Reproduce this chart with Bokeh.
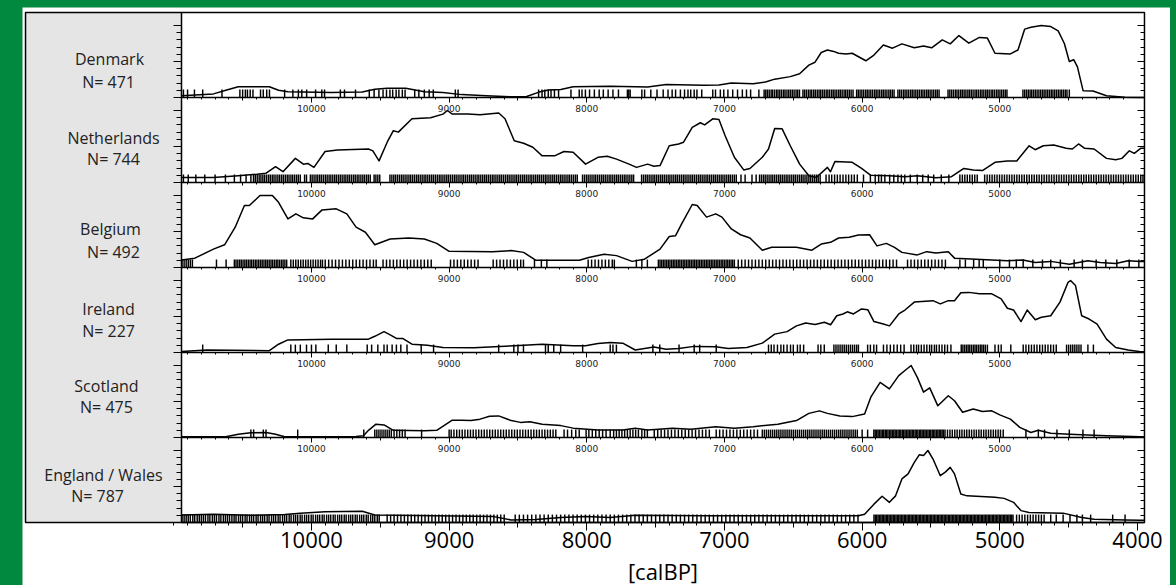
from bokeh.plotting import figure
from bokeh.models import Range1d, LinearAxis, FixedTicker
from bokeh.core.properties import value
from bokeh.embed import file_html
from bokeh.resources import INLINE

# ---------------- data ----------------
countries = ["Denmark", "Netherlands", "Belgium", "Ireland", "Scotland", "England / Wales"]
n_dates = [471, 744, 492, 227, 475, 787]

# summed-probability curves: (calBP, relative density)
dk_curve = [(10944,0.05),(10712,0.10),(10622,0.20),(10532,0.30),(10306,0.30),(10239,0.20),(10171,0.16),(9856,0.14),(9631,0.15),(9540,0.23),(9450,0.26),(9315,0.26),(9180,0.16),(9045,0.14),(8910,0.08),(8730,0.05),(8549,0.02),(8437,0.03),(8347,0.15),(8279,0.21),(8189,0.22),(8099,0.30),(7829,0.31),(7558,0.29),(7423,0.36),(7153,0.34),(7040,0.35),(6950,0.40),(6792,0.38),(6702,0.43),(6635,0.51),(6522,0.58),(6454,0.66),(6387,0.90),(6342,0.98),(6297,1.25),(6252,1.32),(6207,1.28),(6171,1.23),(6117,1.21),(6072,1.23),(5973,1.02),(5914,1.18),(5846,1.46),(5779,1.37),(5711,1.49),(5621,1.38),(5554,1.43),(5495,1.38),(5418,1.60),(5360,1.49),(5297,1.72),(5225,1.51),(5148,1.67),(5090,1.65),(5035,1.23),(4923,1.21),(4868,1.32),(4819,1.90),(4774,1.95),(4698,2.00),(4630,1.97),(4576,1.85),(4531,1.50),(4495,1.00),(4463,1.05),(4436,0.85),(4395,0.19),(4323,0.18),(4225,0.05),(4090,0.01),(3949,0.0)]
nl_curve = [(10944,0.14),(10712,0.14),(10532,0.19),(10396,0.23),(10329,0.26),(10261,0.44),(10207,0.30),(10117,0.67),(10059,0.51),(10027,0.53),(9982,0.42),(9901,0.86),(9811,0.90),(9586,0.93),(9554,0.88),(9509,0.60),(9450,1.12),(9405,1.44),(9369,1.40),(9270,1.77),(9135,1.80),(9045,1.90),(9013,2.00),(8977,1.90),(8865,1.90),(8775,1.88),(8640,1.93),(8594,1.77),(8527,1.16),(8459,1.09),(8392,0.98),(8324,0.74),(8234,0.74),(8166,0.86),(8099,0.84),(8009,0.51),(7919,0.70),(7851,0.73),(7784,0.65),(7693,0.51),(7639,0.42),(7558,0.51),(7513,0.45),(7468,0.47),(7401,1.02),(7333,1.07),(7297,1.12),(7234,1.53),(7175,1.66),(7144,1.60),(7085,1.77),(7040,1.75),(6995,1.30),(6928,0.70),(6860,0.35),(6815,0.39),(6725,0.70),(6680,0.93),(6635,1.50),(6581,1.49),(6522,1.02),(6454,0.51),(6387,0.19),(6333,0.14),(6252,0.42),(6230,0.30),(6198,0.58),(6072,0.56),(6004,0.39),(5937,0.20),(5801,0.19),(5689,0.16),(5599,0.19),(5464,0.13),(5351,0.16),(5261,0.39),(5193,0.35),(5126,0.33),(5035,0.56),(4945,0.60),(4877,0.60),(4787,1.02),(4743,0.91),(4684,1.02),(4608,1.04),(4518,0.95),(4473,0.93),(4428,1.07),(4383,0.95),(4315,0.93),(4225,0.67),(4158,0.63),(4113,0.67),(4059,0.88),(4023,0.81),(3977,0.95),(3949,0.95)]
be_curve = [(10944,0.21),(10847,0.26),(10712,0.51),(10631,0.63),(10554,1.12),(10487,1.72),(10451,1.72),(10374,2.00),(10284,2.00),(10239,1.81),(10171,1.35),(10113,1.49),(10059,1.38),(9991,1.35),(9923,1.60),(9820,1.63),(9743,1.49),(9676,1.12),(9608,0.98),(9540,0.63),(9428,0.79),(9293,0.82),(9180,0.79),(9090,0.67),(9000,0.45),(8685,0.44),(8549,0.47),(8459,0.42),(8369,0.20),(8054,0.20),(7986,0.28),(7874,0.37),(7784,0.33),(7671,0.17),(7581,0.23),(7468,0.51),(7401,0.86),(7356,0.88),(7311,1.21),(7234,1.75),(7198,1.72),(7130,1.40),(7063,1.49),(7018,1.40),(6950,1.07),(6883,0.91),(6815,0.82),(6725,0.48),(6657,0.56),(6477,0.56),(6365,0.48),(6297,0.65),(6229,0.70),(6171,0.82),(6094,0.84),(6027,0.90),(5946,0.91),(5892,0.60),(5824,0.67),(5765,0.56),(5711,0.42),(5599,0.35),(5531,0.44),(5464,0.40),(5374,0.44),(5329,0.26),(5171,0.23),(4945,0.19),(4832,0.21),(4742,0.14),(4630,0.17),(4495,0.09),(4360,0.19),(4270,0.14),(4158,0.11),(4068,0.19),(3977,0.17),(3949,0.17)]
ie_curve = [(10944,0.03),(10757,0.07),(10306,0.05),(10239,0.23),(10171,0.35),(9856,0.37),(9586,0.37),(9540,0.45),(9473,0.58),(9428,0.49),(9383,0.39),(9338,0.39),(9270,0.23),(9158,0.20),(9045,0.14),(8820,0.13),(8527,0.19),(8324,0.23),(8099,0.19),(8009,0.19),(7919,0.25),(7829,0.28),(7739,0.26),(7648,0.07),(7513,0.15),(7423,0.09),(7333,0.11),(7220,0.17),(7063,0.16),(6973,0.11),(6837,0.14),(6725,0.26),(6635,0.51),(6545,0.58),(6477,0.74),(6410,0.82),(6342,0.78),(6274,0.84),(6229,0.77),(6184,1.02),(6139,1.07),(6108,1.13),(6063,1.07),(6004,1.21),(5959,1.19),(5914,0.86),(5846,0.79),(5801,0.74),(5734,1.07),(5689,1.18),(5621,1.40),(5486,1.44),(5432,1.35),(5374,1.44),(5329,1.44),(5283,1.66),(5225,1.67),(5148,1.63),(5058,1.63),(4990,1.49),(4945,1.23),(4900,1.18),(4846,0.86),(4801,1.18),(4742,0.91),(4698,0.98),(4630,1.02),(4563,1.40),(4504,1.95),(4486,2.00),(4450,1.86),(4405,1.02),(4351,0.93),(4293,0.79),(4225,0.37),(4158,0.14),(4068,0.07),(3977,0.02),(3949,0.02)]
sc_curve = [(10944,0.02),(10622,0.02),(10532,0.09),(10441,0.13),(10329,0.14),(10261,0.09),(10194,0.02),(9676,0.03),(9622,0.05),(9586,0.20),(9531,0.37),(9473,0.35),(9405,0.20),(9180,0.19),(9090,0.20),(8977,0.48),(8910,0.48),(8842,0.47),(8775,0.51),(8707,0.59),(8640,0.60),(8549,0.47),(8482,0.42),(8414,0.44),(8324,0.37),(8189,0.33),(8099,0.26),(7919,0.21),(7739,0.21),(7648,0.26),(7558,0.21),(7378,0.26),(7243,0.23),(7063,0.30),(6928,0.26),(6792,0.30),(6612,0.37),(6477,0.47),(6387,0.67),(6310,0.74),(6252,0.67),(6162,0.60),(6072,0.58),(5982,0.65),(5937,1.12),(5869,1.53),(5802,1.35),(5734,1.72),(5689,1.86),(5644,2.00),(5599,1.67),(5554,1.26),(5509,1.38),(5450,0.88),(5374,1.16),(5329,1.02),(5270,0.70),(5193,0.79),(5126,0.72),(5058,0.74),(5000,0.63),(4923,0.51),(4855,0.28),(4774,0.14),(4720,0.20),(4630,0.12),(4495,0.09),(4225,0.05),(3977,0.02),(3949,0.02)]
ew_curve = [(10944,0.21),(10712,0.23),(10441,0.20),(10194,0.22),(10081,0.26),(9901,0.30),(9631,0.31),(9540,0.21),(9090,0.19),(8685,0.17),(8549,0.07),(8369,0.08),(8189,0.14),(8009,0.17),(7829,0.14),(7648,0.20),(7153,0.19),(6027,0.19),(5982,0.23),(5914,0.51),(5855,0.73),(5802,0.56),(5757,0.74),(5711,1.21),(5666,1.35),(5621,1.67),(5585,1.88),(5554,1.86),(5522,2.00),(5486,1.77),(5432,1.30),(5396,1.40),(5360,1.53),(5329,1.35),(5283,0.79),(5238,0.74),(5035,0.70),(4968,0.67),(4900,0.56),(4846,0.33),(4788,0.28),(4540,0.26),(4405,0.14),(4315,0.09),(4090,0.07),(3977,0.06),(3949,0.06)]

# individual radiocarbon dates (calBP), read approximately off the rug
dk_dates = [10930,10900,10850,10790,10650,10520,10500,10480,10465,10445,10425,10370,10350,10325,10305,10195,10135,10095,10070,10035,9970,9925,9905,9790,9760,9680,9580,9545,9510,9480,9455,9430,9410,9385,9365,9340,9320,9250,9220,9180,9145,9115,8955,8935,8350,8325,8305,8280,8260,8235,8205,8115,8055,8035,8010,7980,7945,7910,7880,7845,7810,7770,7705,7695,7685,7600,7580,7535,7490,7445,7410,7380,7355,7320,7290,7265,7245,7220,7200,7165,7085,7065,7030,7005,6975,6940,6905,6870,6840,6810,6750,
 6712,6700,6688,6675,6661,6650,6636,6622,6611,6598,6585,6571,6560,6546,6533,6520,6507,6494,6480,6468,6455,6430,6418,6405,6391,6378,6366,6352,6340,6326,6313,6301,6288,6275,6261,6249,6236,6222,6210,6197,6184,6170,6158,6145,6131,6119,6106,6093,6080,6066,6040,6028,6015,6002,5989,5975,5963,5950,5937,5924,5910,5898,5885,5872,5858,5846,5833,5820,5806,5794,5781,5768,5740,5727,5714,5700,5688,5675,5662,5648,5636,5623,5610,5597,5584,5570,5558,5545,5531,5519,5506,5493,5480,5466,5454,5441,
 5376,5363,5350,5337,5323,5311,5298,5284,5272,5259,5246,5232,5220,5207,5194,5180,5168,5155,5141,5129,5116,5102,5090,5077,5063,5051,5038,5024,5012,4999,4986,4973,4960,4948,
 4832,4819,4806,4793,4780,4768,4755,4742,4729,4716,4703,4690,4678,4665,4652,4639,4626,4614,4601,4588,4575,4562,4550,4537,4524,4512,4495]
nl_dates = [10930,10895,10840,10775,10700,10625,10560,10515,10475,10440,
 10421,10408,10394,10380,10367,10353,10340,10326,10312,10299,10285,10272,10258,10244,10231,10217,10204,10190,10176,10163,10149,10136,10122,10108,10095,10081,10050,10036,
 10008,9995,9981,9967,9954,9940,9927,9913,9899,9886,9872,9859,9845,9831,9818,9804,9791,9777,9763,9750,9736,9723,9709,9695,9682,9668,9655,9641,9627,9614,9600,9587,9573,9545,9532,9518,9504,
 9430,9416,9402,9389,9375,9361,9347,9334,9320,9306,9292,9279,9265,9251,9237,9224,9210,9196,9182,9169,9155,9141,9127,9114,9100,9086,9072,9059,9045,9031,9017,9004,8990,8976,8962,8949,8935,8921,8907,8894,8880,8866,8852,8839,8825,8811,8797,8784,8770,8756,8742,8729,8715,8701,8687,8674,8660,8646,8632,8619,8605,8591,8577,8564,8550,8536,8522,8509,8495,8481,8467,8454,8440,8426,8412,8399,8385,8371,8357,8344,8330,8316,8302,8289,8275,8261,8247,8234,8220,8206,8192,8179,8165,8151,8137,8124,8110,8096,8082,8069,
 8031,8017,8003,7990,7976,7962,7948,7935,7921,7907,7893,7880,7866,7852,7838,7825,7811,7797,7783,7770,7756,7742,7728,7715,7701,7687,7673,7660,
 7602,7588,7574,7561,7547,7533,7519,7506,7492,7478,7464,7451,7437,7423,7409,7396,7382,7368,7354,7341,7327,7313,7299,7286,7272,7258,7244,7231,7217,7203,7189,7176,7162,7148,7134,7121,7107,7093,7079,7066,7052,7038,7024,7011,6997,6983,6969,6956,6942,6928,6914,
 6880,6850,6800,6770,
 6745,6731,6717,6704,6690,6676,6662,6649,6635,6621,6607,6594,6580,6566,6552,6539,6525,6511,6497,6484,6470,6456,6442,6429,6415,6401,6387,6374,6360,6346,6332,6319,6305,
 6262,6240,6221,6200,6180,6160,6139,6118,6098,6077,6057,6035,
 5990,5940,5905,5880,5860,5835,5800,5770,5740,5715,5690,5650,5600,5560,5520,5480,5425,5370,
 5290,5272,5254,5236,5218,5200,5182,5164,5110,5092,5074,5056,5038,5020,5002,4984,4966,4948,4930,4912,4894,4876,4858,4840,4822,4804,4786,4768,4750,4732,4714,4696,4678,4660,4642,4624,4606,4588,4570,4552,4534,4516,4498,4480,4462,4444,4426,4408,4390,4372,4354,4336,4318,4300,4282,4264,4246,4228,4210,4192,4174,4156,4138,4120,4102,4084,4066,4048,4030,4012,3994,3976,3960]
be_dates = [10940,10925,10910,10895,10880,10865,10690,10620,
 10560,10548,10535,10522,10510,10497,10484,10472,10459,10446,10434,10421,10408,10396,10383,10370,10358,10345,10332,10320,10307,10294,10282,10269,10256,10244,10231,10218,10206,10193,10180,
 10150,10132,10114,10096,10078,10060,10042,10024,10006,9988,9970,9952,9934,9920,
 9900,9875,9850,9825,9800,9775,9750,9725,9700,9675,9650,9625,9600,9575,9550,9530,
 9480,9455,9430,9405,9380,9355,9330,9305,9280,9255,9230,9205,9180,9155,9130,
 8990,8965,8940,8915,8890,8865,8840,8815,8790,
 8680,8655,8630,8605,8580,8555,8530,8505,8480,8460,
 8380,8330,8290,
 7990,7965,7940,7915,7890,7865,7840,7815,7800,
 7640,7600,7560,
 7480,7468,7456,7444,7432,7420,7408,7396,7384,7372,7360,7348,7336,7324,7312,7300,7288,7276,7264,7252,7240,7228,7216,7204,7192,7180,7168,7156,7144,7132,7120,7108,7096,7084,7072,7060,7048,7036,7024,7012,7000,6988,6976,6964,6952,6940,6928,
 6900,6875,6850,6825,6800,6775,6750,6725,6700,6675,6650,6625,6600,6575,6550,6525,6500,6475,6450,6425,6400,6375,6350,6325,6300,6275,6250,6225,6200,6175,6150,6125,6100,6075,6050,6025,6000,5975,5950,5925,5900,5875,5850,5825,5800,5775,5750,
 5670,5645,5620,5595,5570,5545,5520,5495,5470,5445,5420,5395,
 5290,5250,5190,5150,5120,5000,4930,4880,4830,4760,4690,4630,4560,4460,4400,4300,4230,4150,4060,3990]
ie_dates = [10790,10150,10117,10081,10036,10000,9968,9878,9820,9743,9595,9563,9518,9473,9450,9414,9383,9351,9306,9203,9113,8640,8530,8500,8460,8300,8280,8240,8190,8030,7830,7810,7785,7520,7470,7330,7220,7180,7060,
 6680,6660,6640,6615,6590,6570,6545,6520,6500,6470,6450,6425,6320,6300,6275,
 6205,6190,6175,6160,6145,6130,6115,6100,6085,6070,6055,6040,6027,5960,5940,5915,5895,5845,5820,5795,5770,5745,5720,5695,
 5645,5625,5605,5590,5570,5550,5530,5510,5495,5475,5460,5440,5420,5400,5380,5355,
 5280,5268,5255,5242,5230,5218,5205,5192,5180,5168,5155,5142,5130,5118,5105,5090,5035,5010,4990,4920,
 4830,4810,4790,4770,4750,4730,4710,4690,4670,4650,4630,4610,4590,4515,4500,4485,4470,4455,4440,4425,4410,4360,4320]
sc_dates = [10440,10420,10350,10330,10100,9620,
 9540,9525,9510,9495,9480,9465,9450,9435,9420,9400,9380,9360,9340,9320,9200,
 9000,8985,8965,8945,8925,8905,8885,8865,8845,8825,8805,8785,8765,8745,8725,8705,8685,8665,8645,8625,8605,8585,8565,8545,8525,8505,8485,8465,8445,8425,8405,8385,8365,8345,8325,8305,8285,8265,8245,8225,
 8165,8140,8110,8080,8055,8005,7985,7960,7935,7910,7885,7860,7830,
 7805,7785,7765,7745,7725,7705,7685,7665,7645,7625,7600,7580,7560,
 7510,7485,7460,7435,7410,7385,7360,7335,7310,7285,7260,7235,7210,7185,7160,7135,7110,
 7060,7035,7010,6985,6960,6935,6910,6885,6860,6835,6810,6785,6760,
 6725,6710,6695,6680,6665,6650,6635,6620,6605,6590,6575,6560,6545,6530,6515,6500,6485,6470,6455,6440,6425,6410,6395,6380,6365,6350,6335,6320,6305,6290,6275,6260,6245,6230,6215,6200,6185,6170,6155,6140,6125,6110,6095,6080,6065,6050,6035,6000,5960,
 5915,5905,5894,5884,5874,5863,5853,5843,5832,5822,5812,5801,5791,5781,5770,5760,5750,5739,5729,5719,5708,5698,5688,5677,5667,5657,5646,5636,5626,5615,5605,5595,5584,5574,5564,5553,5543,5533,5522,5512,5502,5491,5481,5471,5460,5450,5440,5429,5419,5409,5398,
 5380,5362,5345,5327,5310,5292,5275,5257,5240,5222,5205,5187,5170,5152,5135,5117,5100,5082,5065,5047,5030,5012,4995,4975,
 4810,4720,4675,4585,4495,4396,4315]
ew_dates = [10940,10925,10910,10895,10880,10862,10848,10830,10815,10800,10785,10770,10752,10738,10720,10705,10690,10672,10658,10640,10625,10610,10595,10578,10562,10548,10530,10515,10500,10482,10468,10450,10435,10420,10402,10388,10370,10355,10340,10322,10308,10290,10275,10260,10242,10228,10210,10195,10180,10162,10148,10130,10115,10100,10082,10068,10050,10035,10020,10002,9988,9970,9955,9940,9922,9908,9890,9875,9860,9842,9828,9810,9795,9780,9762,9748,9730,9715,9700,9682,9668,9650,9635,9620,9602,9588,9570,9555,9540,9522,9508,
 9450,9425,9400,9375,9350,9325,9300,9275,9250,9225,9200,9175,9150,9125,9100,9075,9050,9025,9000,8975,8950,8925,8900,8875,8850,8825,8800,8775,8750,8725,8700,8675,8650,8625,8600,
 8520,8490,8460,8430,8400,8370,8340,8310,8280,8250,8220,8190,8160,8130,8100,8070,8040,8010,7980,7950,7920,7890,7860,7830,7800,7770,7740,7710,7680,7650,7620,7590,7560,7530,7500,7470,7440,7410,7380,7350,7320,7290,7260,7230,7200,7170,7140,7110,7080,7050,7020,6990,6960,6930,6900,6870,6840,6810,6780,6750,6720,6690,6660,6630,6600,6570,6540,6510,6480,6450,6420,6390,6360,6330,6300,6270,6240,6210,6180,6150,6120,6090,6060,6030,
 5914,5904,5894,5884,5874,5864,5854,5844,5834,5824,5814,5804,5794,5784,5774,5764,5754,5744,5734,5724,5714,5704,5694,5684,5674,5664,5654,5644,5634,5624,5614,5604,5594,5584,5574,5564,5554,5544,5534,5524,5514,5504,5494,5484,5474,5464,5454,5444,5434,5424,5414,5404,5394,5384,5374,5364,5354,5344,5334,5324,5314,5304,5294,5284,5274,5264,5254,5244,5234,5224,5214,5204,5194,5184,5174,5164,5154,5144,5134,5124,5114,5104,5094,5084,5074,5064,5054,5044,5034,5024,5014,5004,4994,4984,4974,4964,4954,4944,4934,4924,4914,4904,
 4878,4858,4838,4818,4798,4778,4758,4738,4718,4698,4678,4630,4590,4540,4490,4440,4400,4340,4180,4090]

curves = [dk_curve, nl_curve, be_curve, ie_curve, sc_curve, ew_curve]
rugs = [dk_dates, nl_dates, be_dates, ie_dates, sc_dates, ew_dates]
panel_tick_labels = [10000, 9000, 8000, 7000, 6000, 5000]
bottom_tick_labels = [10000, 9000, 8000, 7000, 6000, 5000, 4000]
axis_title = "[calBP]"

# ---------------- layout constants ----------------
# the frame covers the whole canvas; panels, label box and axes are placed in data units
X_CANVAS_LEFT = 12099
X_CANVAS_RIGHT = 3760
X_FRAME_LEFT = 12077     # left edge of the label box
X_PLOT_LEFT = 10944
X_PLOT_RIGHT = 3949
PANEL_H = 85.0 / 36.0    # one panel height in curve units (36 px per unit)
Y_CANVAS_TOP = 515.0 / 36.0
Y_CANVAS_BOTTOM = -63.0 / 36.0
RUG_H = 0.22
GREEN = "#00893f"
label_x = [11467, 11438, 11460, 11474, 11489, 11511]
name_dy = [1.06, 1.25, 1.06, 1.22, 1.44, 1.33]
n_x = [11474, 11438, 11438, 11474, 11489, 11554]
n_dy = [0.42, 0.64, 0.44, 0.61, 0.86, 0.75]
TITLE_Y = -1.36

n_panels = len(countries)
bases = [(n_panels - 1 - i) * PANEL_H for i in range(n_panels)]
TOP = n_panels * PANEL_H

p = figure(width=1148, height=578,
           x_range=Range1d(X_CANVAS_LEFT, X_CANVAS_RIGHT),
           y_range=Range1d(Y_CANVAS_BOTTOM, Y_CANVAS_TOP),
           x_axis_location=None, y_axis_location=None,
           output_backend="svg", toolbar_location=None, title=None)
p.min_border = 0
p.min_border_left = 0
p.min_border_right = 0
p.min_border_top = 0
p.min_border_bottom = 0
p.background_fill_color = "white"
p.border_fill_color = "white"
p.outline_line_color = None
p.xgrid.grid_line_color = None
p.ygrid.grid_line_color = None

# label box
p.quad(left=[X_FRAME_LEFT], right=[X_PLOT_LEFT], bottom=[0], top=[TOP],
       fill_color="#e5e5e5", line_color=None)

# baselines
p.segment(x0=[X_PLOT_LEFT] * n_panels, x1=[X_PLOT_RIGHT] * n_panels, y0=bases, y1=bases,
          line_color="black", line_width=1.3)

minor_x = [y for y in range(10900, 3900, -100) if y % 500 != 0]
mid_x = [y for y in range(10500, 4000, -1000)]

for i in range(n_panels):
    base = bases[i]
    rug = rugs[i]
    p.segment(x0=rug, x1=rug, y0=[base] * len(rug), y1=[base + RUG_H] * len(rug),
              line_color="black", line_width=1.45)
    xs = [c[0] for c in curves[i]]
    ys = [c[1] + base for c in curves[i]]
    p.line(xs, ys, line_color="black", line_width=1.5, line_join="round")

    last = (i == n_panels - 1)
    ax = LinearAxis(fixed_location=base,
                    ticker=FixedTicker(ticks=bottom_tick_labels if last else panel_tick_labels,
                                       minor_ticks=([11000] + minor_x) if last else minor_x))
    ax.axis_line_color = None
    ax.major_tick_line_color = "black"
    ax.minor_tick_line_color = "black"
    ax.major_tick_in = 0
    ax.minor_tick_in = 0
    if last:
        ax.major_tick_out = 8
        ax.minor_tick_out = 3
        ax.major_label_text_font = "Open Sans"
        ax.major_label_text_font_size = "22px"
        ax.major_label_text_color = "black"
        ax.major_label_standoff = 1
    else:
        ax.major_tick_out = 5
        ax.minor_tick_out = 2
        ax.major_label_text_font = "DejaVu Sans"
        ax.major_label_text_font_size = "9px"
        ax.major_label_text_color = "#222222"
        ax.major_label_standoff = 2
    p.add_layout(ax, "below")

    mx = LinearAxis(fixed_location=base, ticker=FixedTicker(ticks=mid_x, minor_ticks=[]))
    mx.axis_line_color = None
    mx.major_tick_in = 0
    mx.major_tick_out = 5 if last else 3
    mx.minor_tick_line_color = None
    mx.major_label_text_color = None
    p.add_layout(mx, "below")

# vertical tick axes (left of plot area, and right border)
y_major = [b + k for b in bases for k in (0, 1, 2)]
y_minor = [b + 0.2 * j for b in bases for j in range(1, 10) if j != 5]

ly = LinearAxis(fixed_location=X_PLOT_LEFT, ticker=FixedTicker(ticks=y_major, minor_ticks=y_minor))
ly.axis_line_color = None
ly.major_tick_out = 8
ly.major_tick_in = 0
ly.minor_tick_out = 5
ly.minor_tick_in = 0
ly.major_label_text_color = None
p.add_layout(ly, "left")

ry = LinearAxis(fixed_location=X_PLOT_RIGHT, ticker=FixedTicker(ticks=y_major, minor_ticks=y_minor))
ry.axis_line_color = None
ry.major_tick_out = 0
ry.major_tick_in = 7
ry.minor_tick_out = 0
ry.minor_tick_in = 4
ry.major_label_text_color = None
p.add_layout(ry, "right")

# outer box and divider between label box and plot area
p.quad(left=[X_FRAME_LEFT], right=[X_PLOT_RIGHT], bottom=[0], top=[TOP],
       fill_color=None, line_color="black", line_width=1.5)
p.segment(x0=[X_PLOT_LEFT], x1=[X_PLOT_LEFT], y0=[0], y1=[TOP], line_color="black", line_width=1.5)

# country labels
p.text(x=label_x, y=[b + d for b, d in zip(bases, name_dy)], text=countries,
       text_font=value("Open Sans"), text_font_size=value("16px"),
       text_align="center", text_baseline="alphabetic", text_color="#222222")
p.text(x=n_x, y=[b + d for b, d in zip(bases, n_dy)], text=["N= %d" % n for n in n_dates],
       text_font=value("Open Sans"), text_font_size=value("16px"),
       text_align="center", text_baseline="alphabetic", text_color="#222222")

# x-axis title
p.text(x=[(X_PLOT_LEFT + X_PLOT_RIGHT) / 2], y=[TITLE_Y], text=[axis_title],
       text_font=value("Open Sans"), text_font_size=value("22px"),
       text_align="center", text_baseline="middle", text_color="black")

html = file_html(p, INLINE)
html = html.replace("</head>",
                    "<style>html,body{margin:0;}body{background:%s;padding:7px 0 0 22px;box-sizing:border-box;}</style></head>" % GREEN, 1)
open("out.html", "w").write(html)
